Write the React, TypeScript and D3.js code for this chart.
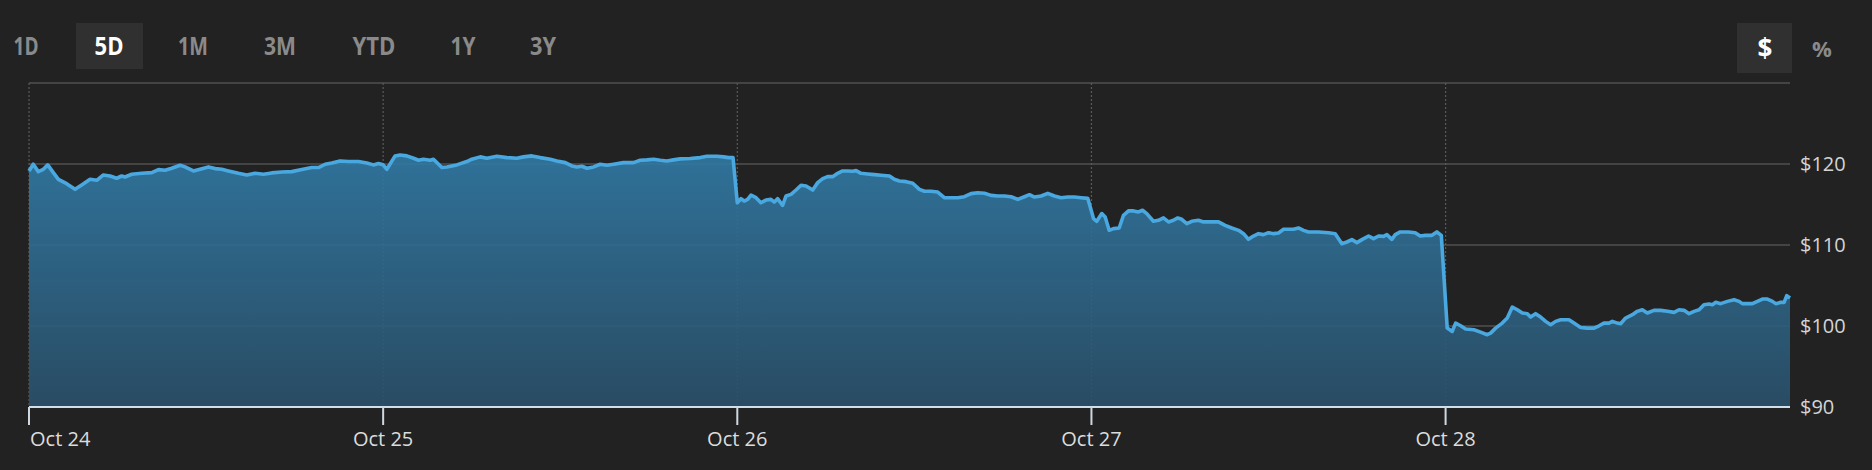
import * as React from 'react'
import * as d3 from 'd3'

// day labels (one per trading session on the x axis)
const days = ['Oct 24', 'Oct 25', 'Oct 26', 'Oct 27', 'Oct 28'];

// hour of day for each sample, and the price read at that hour
const oct24Hours = [0, 0.29, 0.63, 0.97, 1.27, 1.65, 1.99, 2.55, 3.12, 3.57, 4.14, 4.59, 5.04, 5.49, 5.94, 6.28, 6.51, 6.96, 7.64, 8.32, 8.77, 9.22, 9.67, 10.24, 10.58, 11.14, 11.59, 12.16, 12.61, 13.06, 13.51, 14.19, 14.76, 15.32, 15.89, 16.45, 17.13, 17.81, 18.49, 19.16, 19.62, 20.07, 20.52, 21.08, 21.65, 22.33, 22.89, 23.34, 23.68];
const oct24Prices = [119.14, 119.97, 119.06, 119.35, 119.89, 118.94, 118.11, 117.57, 116.87, 117.41, 118.11, 117.99, 118.65, 118.52, 118.24, 118.52, 118.40, 118.73, 118.85, 118.94, 119.31, 119.23, 119.47, 119.85, 119.64, 119.14, 119.35, 119.64, 119.43, 119.35, 119.14, 118.85, 118.65, 118.85, 118.73, 118.90, 119.02, 119.06, 119.31, 119.56, 119.56, 119.97, 120.13, 120.38, 120.30, 120.30, 120.13, 119.89, 120.05];

const oct25Hours = [0, 0.25, 0.81, 1.15, 1.60, 2.06, 2.40, 2.73, 3.19, 3.41, 3.98, 4.32, 4.99, 5.67, 6.01, 6.58, 7.03, 7.71, 8.38, 9.06, 9.51, 10.08, 10.64, 11.32, 11.77, 12.34, 12.79, 13.13, 13.47, 13.81, 14.26, 14.71, 15.16, 15.62, 16.29, 16.97, 17.42, 17.88, 18.33, 18.78, 19.23, 19.68, 20.14, 20.81, 21.49, 21.94, 22.62, 23.07, 23.41, 23.71];
const oct25Prices = [119.9, 119.35, 121.0, 121.12, 121.0, 120.71, 120.46, 120.59, 120.46, 120.59, 119.56, 119.64, 119.89, 120.30, 120.59, 120.88, 120.71, 120.96, 120.79, 120.71, 120.88, 121.0, 120.79, 120.59, 120.38, 120.17, 119.76, 119.64, 119.72, 119.47, 119.64, 119.97, 119.85, 119.97, 120.17, 120.17, 120.46, 120.51, 120.59, 120.46, 120.38, 120.51, 120.63, 120.67, 120.79, 120.96, 120.96, 120.88, 120.79, 120.79];

const oct26Hours = [0, 0.25, 0.47, 0.70, 0.93, 1.27, 1.60, 1.94, 2.28, 2.51, 2.73, 3.07, 3.30, 3.64, 3.98, 4.32, 4.66, 5.11, 5.45, 5.79, 6.12, 6.46, 6.80, 7.14, 7.48, 7.82, 8.05, 8.38, 8.84, 9.29, 9.74, 10.31, 10.64, 10.98, 11.44, 11.89, 12.34, 12.68, 13.13, 13.58, 14.03, 14.49, 14.94, 15.39, 15.84, 16.29, 16.75, 17.20, 17.65, 18.10, 18.55, 19.01, 19.46, 19.80, 20.14, 20.59, 21.04, 21.49, 21.94, 22.40, 22.85, 23.30, 23.75];
const oct26Prices = [115.22, 115.72, 115.43, 115.63, 116.17, 115.84, 115.22, 115.55, 115.63, 115.30, 115.72, 114.89, 116.05, 116.25, 116.79, 117.37, 117.29, 116.79, 117.70, 118.19, 118.44, 118.44, 118.85, 119.14, 119.14, 119.10, 119.18, 118.85, 118.77, 118.69, 118.61, 118.52, 118.11, 117.90, 117.82, 117.62, 116.87, 116.63, 116.63, 116.54, 115.84, 115.84, 115.84, 115.96, 116.34, 116.46, 116.38, 116.13, 116.05, 116.05, 115.96, 115.63, 115.96, 116.21, 115.92, 116.05, 116.38, 116.05, 115.84, 115.92, 115.92, 115.84, 115.76];

const oct27Hours = [0.14, 0.36, 0.70, 0.93, 1.20, 1.49, 1.88, 2.17, 2.51, 2.85, 3.19, 3.46, 3.75, 4.20, 4.54, 4.88, 5.22, 5.56, 5.85, 6.12, 6.46, 6.80, 7.25, 7.59, 8.16, 8.61, 9.06, 9.51, 9.97, 10.31, 10.64, 10.98, 11.32, 11.66, 12.00, 12.34, 12.68, 13.02, 13.36, 13.69, 14.03, 14.37, 14.71, 15.39, 16.07, 16.52, 16.97, 17.31, 17.65, 17.99, 18.33, 18.78, 19.12, 19.46, 19.80, 20.02, 20.36, 20.59, 20.93, 21.49, 21.94, 22.28, 22.62, 23.07, 23.41, 23.71];
const oct27Prices = [113.26, 112.93, 113.88, 113.46, 111.81, 112.02, 112.10, 113.67, 114.21, 114.21, 114.08, 114.29, 113.88, 112.93, 113.05, 113.34, 112.85, 113.05, 113.34, 113.17, 112.64, 112.93, 113.05, 112.85, 112.85, 112.85, 112.43, 112.10, 111.81, 111.40, 110.70, 111.11, 111.40, 111.28, 111.52, 111.40, 111.48, 111.94, 111.94, 111.94, 112.10, 111.81, 111.61, 111.61, 111.52, 111.40, 110.16, 110.37, 110.66, 110.29, 110.66, 111.11, 110.78, 111.11, 111.07, 111.28, 110.70, 111.28, 111.61, 111.61, 111.52, 111.11, 111.19, 111.19, 111.61, 111.19];

const oct28Hours = [0.11, 0.45, 0.68, 1.02, 1.36, 1.92, 2.37, 2.82, 3.05, 3.39, 3.84, 4.18, 4.52, 4.86, 5.20, 5.54, 5.76, 6.10, 6.44, 6.78, 7.12, 7.46, 7.80, 8.36, 8.70, 9.15, 9.60, 10.06, 10.40, 10.73, 11.07, 11.30, 11.64, 11.86, 12.20, 12.66, 12.99, 13.33, 13.67, 14.12, 14.58, 15.03, 15.48, 15.82, 16.16, 16.50, 16.84, 17.18, 17.51, 17.85, 18.08, 18.31, 18.64, 19.10, 19.55, 19.89, 20.11, 20.79, 21.13, 21.47, 21.81, 22.15, 22.37, 22.71, 22.94, 23.12, 23.34];
const oct28Prices = [99.74, 99.33, 100.36, 100.03, 99.62, 99.54, 99.25, 98.92, 99.12, 99.74, 100.36, 100.98, 102.34, 102.01, 101.60, 101.52, 101.10, 101.52, 101.10, 100.57, 100.15, 100.57, 100.77, 100.77, 100.36, 99.82, 99.74, 99.74, 100.03, 100.36, 100.36, 100.57, 100.36, 100.28, 100.98, 101.39, 101.81, 102.01, 101.60, 101.93, 101.93, 101.81, 101.68, 102.01, 101.93, 101.52, 101.81, 102.01, 102.63, 102.71, 102.63, 102.92, 102.76, 103.04, 103.25, 103.04, 102.76, 102.76, 103.04, 103.33, 103.33, 103.04, 102.76, 102.92, 102.92, 103.75, 103.46];

const priceTicks = [90, 100, 110, 120];
const gridValues = [100, 110, 120, 130];

const ranges = ['1D', '5D', '1M', '3M', 'YTD', '1Y', '3Y'];
const activeRange = '5D';

interface Point { t: number; price: number; }

const sessions: [number[], number[]][] = [
  [oct24Hours, oct24Prices],
  [oct25Hours, oct25Prices],
  [oct26Hours, oct26Prices],
  [oct27Hours, oct27Prices],
  [oct28Hours, oct28Prices],
];

const points: Point[] = sessions.flatMap(([hours, prices], d) =>
  hours.map((h, i) => ({ t: d + h / 24, price: prices[i] })));

const W = 1872;
const H = 470;
const left = 29;
const right = 1790;
const top = 83;
const bottom = 407;
const font = '"Open Sans", "Noto Sans", sans-serif';

// tab layout (centre x, rendered width) for the range buttons
const tabCentres = [26, 109, 193, 280, 374, 463, 543];
const tabWidths = [25, 29, 30, 32, 43, 25, 26];

const StockChart: React.FC = () => {
  const x = d3.scaleLinear()
    .domain([0, d3.max(points, d => d.t) as number])
    .range([left, right]);
  const y = d3.scaleLinear().domain([90, 130]).range([bottom, top]);

  const area = d3.area<Point>()
    .x(d => x(d.t))
    .y0(y(90))
    .y1(d => y(d.price));
  const line = d3.line<Point>()
    .x(d => x(d.t))
    .y(d => y(d.price));

  return (
    <svg width={W} height={H} style={{ position: 'absolute', left: 0, top: 0, display: 'block', background: '#222222' }}>
      <defs>
        <linearGradient id="fillGrad" gradientUnits="userSpaceOnUse" x1="0" y1={top} x2="0" y2={bottom}>
          <stop offset="0%" stopColor="#3386b6" />
          <stop offset="100%" stopColor="#2a506a" />
        </linearGradient>
      </defs>

      {ranges.map((r, i) => (
        <g key={r}>
          {r === activeRange && (
            <rect x={tabCentres[i] - 33} y={23} width={67} height={46} fill="#303030" />
          )}
          <text x={tabCentres[i]} y={55} textAnchor="middle" fontFamily={font} fontWeight={700}
            fontSize={25.5} textLength={tabWidths[i]} lengthAdjust="spacingAndGlyphs"
            fill={r === activeRange ? '#ffffff' : '#8a8a8a'}>{r}</text>
        </g>
      ))}

      <rect x={1737} y={23} width={55} height={50} fill="#303030" />
      <text x={1765} y={58} textAnchor="middle" fontFamily={font} fontWeight={700} fontSize={26} fill="#ffffff">$</text>
      <text x={1822} y={57} textAnchor="middle" fontFamily={font} fontWeight={700} fontSize={22} fill="#8a8a8a">%</text>

      {gridValues.map(v => (
        <line key={v} x1={left} x2={right} y1={y(v)} y2={y(v)} stroke="#505050" strokeWidth={1.5} />
      ))}
      {days.map((d, i) => (
        <line key={d} x1={x(i)} x2={x(i)} y1={top} y2={bottom} stroke="#5a5a5a" strokeWidth={1.2} strokeDasharray="2,2" />
      ))}

      <path d={area(points) as string} fill="url(#fillGrad)" fillOpacity={0.9} />
      <path d={line(points) as string} fill="none" stroke="#4aa8e0" strokeWidth={3.6} strokeLinejoin="round" />

      <line x1={left} x2={right} y1={bottom} y2={bottom} stroke="#cfdfec" strokeWidth={2} />
      {days.map((d, i) => (
        <g key={d}>
          <line x1={x(i)} x2={x(i)} y1={bottom} y2={bottom + 18} stroke="#cfd8e0" strokeWidth={2} />
          <text x={i === 0 ? x(i) + 1 : x(i)} y={446} textAnchor={i === 0 ? 'start' : 'middle'}
            fontFamily={font} fontSize={20} fill="#dcdcdc">{d}</text>
        </g>
      ))}

      {priceTicks.map(v => (
        <text key={v} x={1800} y={y(v)} dy="0.35em" fontFamily={font} fontSize={20} fill="#d4d4d4">${v}</text>
      ))}
    </svg>
  );
};

export default function App() {
  return <StockChart />;
}
